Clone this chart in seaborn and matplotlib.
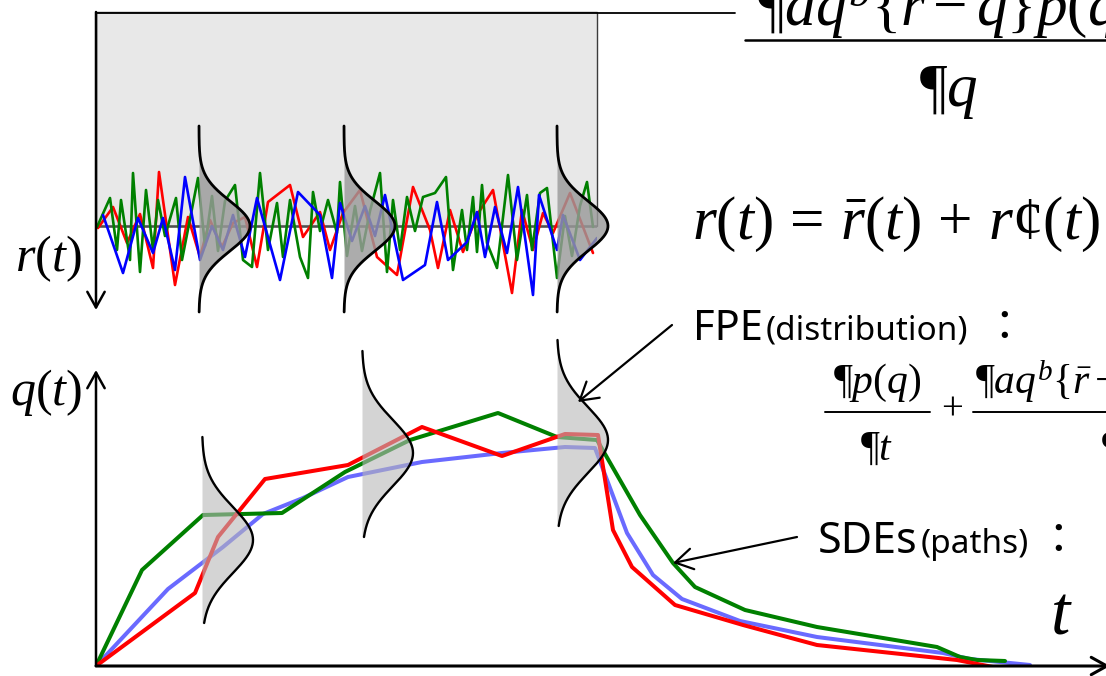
import numpy as np
import matplotlib
matplotlib.use("Agg")
import matplotlib.pyplot as plt
import seaborn as sns
from matplotlib.lines import Line2D
from matplotlib.patches import FancyArrowPatch

W, H = 1106, 676

# ---------------------------------------------------------------
# r'(t): three realisations of the fluctuating forcing (upper panel)
r_red_t = [0.2, 1.7, 3.1, 4.4, 5.7, 6.3, 7.9, 9.2, 10.4, 11.4, 12.6, 13.7, 14.9,
           16.1, 17.2, 19.4, 20.7, 22.4, 23.4, 24.7, 26.4, 28.1, 30.1, 31.7, 33.4,
           34.2, 35.4, 36.7, 38.1, 39.7, 41.6, 42.6, 43.7, 44.7, 45.7, 47.4, 49.7]
r_red = [-0.02, 0.19, -0.17, 0.12, -0.42, 0.54, -0.59, 0.09, -0.31, 0.06, -0.21,
         0.03, 0.09, -0.41, 0.24, 0.41, -0.11, 0.14, -0.24, 0.13, 0.36, -0.31,
         -0.49, 0.39, -0.04, -0.42, 0.16, -0.26, 0.11, 0.36, -0.67, 0.16, -0.24,
         0.13, -0.07, 0.33, -0.27]

r_blue_t = [0.7, 2.7, 4.2, 5.7, 6.7, 7.9, 8.9, 10.4, 11.6, 12.7, 13.7, 14.9, 16.1,
            18.4, 20.2, 22.4, 23.6, 24.4, 25.6, 26.9, 27.9, 28.9, 30.7, 32.9, 34.1,
            35.2, 37.1, 38.1, 38.9, 39.9, 41.1, 42.2, 43.7, 44.3, 46.1, 46.7, 48.4,
            50.1]
r_blue = [0.11, -0.47, 0.08, -0.27, 0.08, -0.44, 0.49, -0.34, 0.0, -0.24, 0.11,
          -0.31, 0.28, -0.54, 0.34, 0.11, -0.52, 0.23, -0.15, 0.20, -0.10, 0.31,
          -0.54, -0.39, 0.24, -0.34, -0.16, 0.14, -0.31, 0.19, -0.27, 0.39, -0.69,
          0.31, -0.24, 0.11, -0.34, -0.12]

r_green_t = [0.1, 1.4, 2.1, 2.5, 3.4, 3.7, 4.4, 5.0, 5.7, 6.2, 6.9, 8.0, 8.6, 10.2,
             10.9, 11.6, 12.2, 12.9, 13.9, 14.7, 15.6, 16.4, 17.2, 18.1, 18.7, 19.4,
             20.4, 21.2, 21.7, 22.4, 23.2, 24.1, 24.4, 25.1, 25.9, 26.6, 27.4, 28.4,
             29.1, 29.7, 30.4, 31.1, 31.9, 32.7, 33.9, 35.0, 35.7, 36.6, 37.1, 37.7,
             38.1, 38.6, 39.1, 40.1, 41.2, 42.1, 43.1, 43.6, 44.4, 45.1, 46.1, 46.9,
             47.6, 48.4, 49.1, 49.7]
r_green = [-0.01, 0.28, -0.24, 0.26, -0.34, 0.53, -0.46, 0.36, -0.24, 0.26, -0.10,
           0.28, -0.34, 0.48, -0.20, 0.30, -0.25, 0.25, 0.41, -0.34, -0.41, 0.53,
           -0.24, 0.23, -0.31, 0.26, -0.31, -0.52, 0.34, -0.05, 0.26, -0.07, 0.44,
           -0.30, 0.20, -0.25, 0.15, 0.53, -0.46, 0.26, -0.24, 0.29, -0.05, 0.29,
           0.33, 0.49, -0.44, 0.16, -0.24, 0.29, -0.26, 0.41, -0.17, -0.42, 0.51,
           -0.34, 0.31, -0.24, 0.33, 0.38, -0.52, 0.10, -0.30, 0.20, 0.44, -0.01]

# q(t): three sample paths of the response (lower panel)
q_blue_t = [0, 7.2, 12.7, 16.7, 20.7, 25.2, 32.6, 40.6, 46.9, 49.9, 53.1, 55.7,
            58.6, 64.4, 72.1, 84.7, 87.4, 93.4]
q_blue = [0, 0.77, 1.19, 1.52, 1.68, 1.89, 2.04, 2.13, 2.19, 2.18, 1.33, 0.91,
          0.67, 0.45, 0.29, 0.13, 0.07, 0.01]

q_green_t = [0, 4.6, 10.7, 18.6, 24.9, 31.4, 40.2, 46.1, 50.1, 54.4, 57.7, 59.9,
             64.9, 72.1, 84.1, 86.4, 88.1, 90.9]
q_green = [0, 0.96, 1.51, 1.53, 1.94, 2.26, 2.53, 2.29, 2.26, 1.51, 1.03, 0.79,
           0.56, 0.39, 0.19, 0.09, 0.06, 0.05]

q_red_t = [0, 9.9, 12.2, 16.9, 25.2, 32.6, 40.6, 46.9, 50.2, 51.7, 53.6, 57.9,
           64.7, 72.1, 86.1, 90.2]
q_red = [0, 0.73, 1.29, 1.87, 2.01, 2.39, 2.10, 2.32, 2.31, 1.36, 0.99, 0.61,
         0.41, 0.21, 0.06, -0.02]

# snapshot distributions: time of the snapshot, centre, spread, extent, height
r_snap_t = [10.3, 24.8, 46.1]
r_snap_mu = [0.0, 0.0, 0.0]
r_snap_sd = 0.25
r_snap_lo, r_snap_hi = -0.86, 1.0
q_snap_t = [10.6, 26.6, 46.1]
q_snap_mu = [1.26, 2.13, 2.26]
q_snap_lo = [0.43, 1.29, 1.40]
q_snap_hi = [2.29, 3.15, 3.26]
q_snap_sd = 0.33
snap_height = 5.1

# ---------------------------------------------------------------
sns.set_style("white")
plt.rcParams["font.family"] = ["Noto Sans", "Noto Sans CJK JP", "DejaVu Sans"]
plt.rcParams["mathtext.fontset"] = "custom"
plt.rcParams["mathtext.rm"] = "Liberation Serif"
plt.rcParams["mathtext.it"] = "Liberation Serif:italic"
plt.rcParams["mathtext.bf"] = "Liberation Serif:bold"

fig = plt.figure(figsize=(W / 100, H / 100), dpi=100)


def fpos(x, y):
    """pixel position measured from the top-left corner -> figure fraction"""
    return x / W, 1 - y / H


def rect(x0, y0, x1, y1):
    return [x0 / W, 1 - y1 / H, (x1 - x0) / W, (y1 - y0) / H]


ax_r = fig.add_axes(rect(96, 12, 597, 312))
ax_q = fig.add_axes(rect(96, 340, 1106, 666))
ax_r.set_xlim(0, 50.1)
ax_r.set_ylim(-0.86, 2.14)
ax_q.set_xlim(0, 101.0)
ax_q.set_ylim(0, 3.26)

# ---- upper panel: r(t) = mean + fluctuation ----
ax_r.axhspan(0, 2.14, facecolor="#e8e8e8", edgecolor="#3c3c3c", lw=1.0,
             zorder=0, clip_on=False)
ax_r.axhline(0, color="#505050", lw=1.8, zorder=1.5)
for t, r, c in [(r_red_t, r_red, "#ff0000"), (r_green_t, r_green, "#008000"),
                (r_blue_t, r_blue, "#0000ff")]:
    sns.lineplot(x=t, y=r, ax=ax_r, color=c, lw=1.9, sort=False, zorder=2)

rr = np.linspace(r_snap_lo, r_snap_hi, 300)
for t0, mu in zip(r_snap_t, r_snap_mu):
    w = snap_height * np.exp(-0.5 * ((rr - mu) / r_snap_sd) ** 2)
    ax_r.fill_betweenx(rr, t0, t0 + w, color="#9a9a9a", alpha=0.82, lw=0,
                       zorder=4, clip_on=False)
    ax_r.plot(t0 + w, rr, color="black", lw=2.0, zorder=5, clip_on=False)

ax_r.annotate("", xy=(0, -0.84), xytext=(0, 2.14), annotation_clip=False,
              arrowprops=dict(arrowstyle="->,head_length=0.45,head_width=0.25",
                              lw=1.8, color="black", mutation_scale=25,
                              shrinkA=0, shrinkB=0))

# ---- lower panel: sample paths q(t) and their distributions ----
sns.lineplot(x=q_blue_t, y=q_blue, ax=ax_q, color="#6a6aff", lw=2.9, sort=False, zorder=2)
sns.lineplot(x=q_green_t, y=q_green, ax=ax_q, color="#008000", lw=2.9, sort=False, zorder=2.1)
sns.lineplot(x=q_red_t, y=q_red, ax=ax_q, color="#ff0000", lw=2.9, sort=False, zorder=2.2)

for t0, mu, lo, hi in zip(q_snap_t, q_snap_mu, q_snap_lo, q_snap_hi):
    qq = np.linspace(lo, hi, 300)
    w = snap_height * np.exp(-0.5 * ((qq - mu) / q_snap_sd) ** 2)
    ax_q.fill_betweenx(qq, t0, t0 + w, color="#b8b8b8", alpha=0.6, lw=0,
                       zorder=3, clip_on=False)
    ax_q.plot(t0 + w, qq, color="black", lw=1.7, zorder=4, clip_on=False)

ax_q.annotate("", xy=(0, 2.96), xytext=(0, 0), annotation_clip=False,
              arrowprops=dict(arrowstyle="->,head_length=0.45,head_width=0.25",
                              lw=1.8, color="black", mutation_scale=25,
                              shrinkA=0, shrinkB=0))
ax_q.annotate("", xy=(101.4, 0), xytext=(0, 0), annotation_clip=False,
              arrowprops=dict(arrowstyle="->,head_length=0.45,head_width=0.25",
                              lw=2.2, color="black", mutation_scale=25,
                              shrinkA=0, shrinkB=0))

for ax in (ax_r, ax_q):
    ax.set_axis_off()

# ---- labels and equations ----
serif = dict(color="black", va="baseline")
fig.text(*fpos(15, 271), r"$r(t)$", fontsize=36, **serif)
fig.text(*fpos(10, 405), r"$q(t)$", fontsize=36, **serif)
fig.text(*fpos(1050, 634), r"$t$", fontsize=50, **serif)

fig.add_artist(Line2D([96 / W, 735 / W], [1 - 13 / H] * 2, color="black", lw=1.3))
fig.text(*fpos(757, 25), r"$¶aq^{b}\{\bar{r}-q\}p(q)$", fontsize=44, **serif)
fig.add_artist(Line2D([745 / W, 1.0], [1 - 40 / H] * 2, color="black", lw=1.8))
fig.text(*fpos(948, 106), r"$¶q$", fontsize=44, ha="center", **serif)

fig.text(*fpos(692, 239), r"$r(t)\,=\,\bar{r}(t)\,+\,r¢(t)$", fontsize=44, **serif)

sans = dict(color="black", va="baseline")
fig.text(*fpos(693, 340), "FPE", fontsize=30, **sans)
fig.text(*fpos(766, 340), "(distribution)", fontsize=24, **sans)
fig.text(*fpos(1004, 340), "：", fontsize=30, ha="center", **sans)
fig.text(*fpos(818, 553), "SDEs", fontsize=31, **sans)
fig.text(*fpos(921, 553), "(paths)", fontsize=24, **sans)
fig.text(*fpos(1058, 553), "：", fontsize=30, ha="center", **sans)

fig.text(*fpos(877, 393), r"$¶p(q)$", fontsize=30, ha="center", **serif)
fig.add_artist(Line2D([825 / W, 930 / W], [1 - 412 / H] * 2, color="black", lw=1.4))
fig.text(*fpos(877, 460), r"$¶t$", fontsize=30, ha="center", **serif)
fig.text(*fpos(952, 419), "+", fontsize=28, ha="center", family="Liberation Serif",
         color="black", va="baseline")
fig.text(*fpos(975, 393), r"$¶aq^{b}\{\bar{r}-q\}p(q)$", fontsize=30, **serif)
fig.add_artist(Line2D([973 / W, 1.0], [1 - 412 / H] * 2, color="black", lw=1.4))
fig.text(*fpos(1101, 460), r"$¶q$", fontsize=30, **serif)

# ---- pointers ----
for tail, tip in [((672, 325), (578, 402)), ((797, 537), (673, 563))]:
    fig.add_artist(FancyArrowPatch(fpos(*tail), fpos(*tip), transform=fig.transFigure,
                                   arrowstyle="->,head_length=0.5,head_width=0.3",
                                   mutation_scale=25, lw=1.6, color="black",
                                   shrinkA=0, shrinkB=0))

fig.savefig("out.png", dpi=100)
